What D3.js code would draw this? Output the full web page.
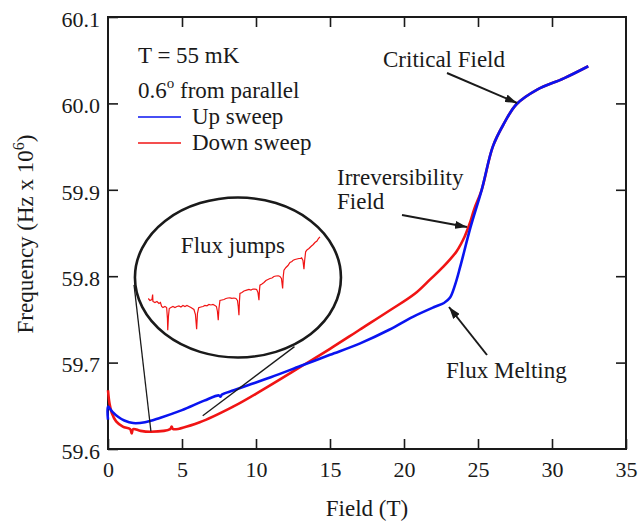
<!DOCTYPE html>
<html><head><meta charset="utf-8">
<script src="https://cdn.jsdelivr.net/npm/d3@7"></script>
<style>
html,body{margin:0;padding:0;background:#fff;}
svg text{font-family:"Liberation Serif","Times New Roman",Times,"DejaVu Serif",serif !important;}
</style></head>
<body>
<svg id="chart" width="639" height="525"></svg>
<script>
// ---- data ----
const xTicks = [0, 5, 10, 15, 20, 25, 30, 35];
const yTicks = [59.6, 59.7, 59.8, 59.9, 60.0, 60.1];
const seriesNames = ["Up sweep", "Down sweep"];
const seriesColors = ["#0a14f0", "#f01414"];

// Up sweep: [field (T), frequency (MHz)]
const upField = [0, 0, 0.3, 0.7, 1.1, 1.7, 2.5, 3.5, 5, 6.5, 7.5, 7.6, 7.7, 8.5, 9.5, 11, 13, 15, 17, 19, 20.6, 22, 22.7, 23.1, 23.45, 23.8, 24.5, 25.25, 26.0, 26.7, 27.6, 29.0, 30.8, 32.45];
const upFreq  = [59.634, 59.649, 59.643, 59.637, 59.633, 59.630, 59.631, 59.636, 59.645, 59.656, 59.662, 59.6605, 59.663, 59.668, 59.674, 59.683, 59.696, 59.709, 59.722, 59.738, 59.753, 59.764, 59.769, 59.775, 59.790, 59.811, 59.857, 59.900, 59.950, 59.975, 59.999, 60.016, 60.029, 60.043];

// Down sweep
const downField = [0, 0.1, 0.25, 0.55, 1.0, 1.5, 1.6, 1.7, 2.2, 2.9, 4.2, 4.3, 4.4, 6.2, 8.45, 10.3, 13, 15, 17, 19, 20.75, 21.75, 22.66, 23.56, 24.1, 24.46, 24.75, 25.25, 26.0, 26.7, 27.6, 29.0, 30.8, 32.45];
const downFreq  = [59.668, 59.653, 59.642, 59.632, 59.626, 59.623, 59.618, 59.623, 59.621, 59.620, 59.623, 59.626, 59.623, 59.631, 59.649, 59.667, 59.695, 59.716, 59.738, 59.760, 59.780, 59.796, 59.811, 59.829, 59.846, 59.862, 59.878, 59.900, 59.950, 59.975, 59.999, 60.016, 60.029, 60.043];

// Inset (flux jumps), arbitrary units
const insetX = [0.3,2,4,4.7,5,7,9,11,12.5,13.7,15,17,18.7,19.5,19.8,20.5,21.3,23,25,27,29,31,33,35,37,39,41,43,44.5,46,47.5,48.7,49.5,50.7,53,55,57,59,61,63,65,67,68.5,69.5,70.3,71,72,74,76,78,80,82,84,86,88,89.5,90.3,91,91.5,92,94,96,98.7,101,103,105,107,108.7,110,111,111.5,112,114,116,118,120,122,124,126,128,130.3,132,133.5,134.7,135.3,136,138,140,142,144,145.3,147,149,151,152.5,153.7,155,156,156.7,157.7,159,161,163,165.3,167,169,170.5,172];
const insetY = [10,8,9,14,7,6,7,5,6,2,1,2,1,-10,-21.7,-8,0,1,2,1,2,2.5,1.5,3,2,3,2,1,0,-1,-6,-20.7,-5,0.7,1.5,2,3,2.7,4,3.5,4,3,2,-3,-11.7,0,8,8.5,9,10,10.5,10.7,10.2,10.5,10,8,2,-6.7,7,15,16,17.5,18.3,19,18.5,19.5,19.3,19,16,8.3,18,23.3,24.5,26,28,29,30,30.5,32,32.5,32.7,32,30,20,32,38.3,41,43,46,47,48.3,49,49.5,50,50,50.7,48,39.3,48,56.7,58.5,60,62,64,66,67.5,70,71.7];

// ---- layout ----
const FONT = "'Liberation Serif','Times New Roman',Times,serif";
const svg = d3.select("#chart").attr("font-family", FONT);
const M = {left: 108, right: 626, top: 17, bottom: 449};
const x = d3.scaleLinear().domain([0, 35]).range([M.left, M.right]);
const y = d3.scaleLinear().domain([59.6, 60.1]).range([M.bottom, M.top]);
const FS = 22;
const ink = "#1a1a1a";

// axes
function styleAxis(g) {
  g.attr("font-family", FONT);
  g.select(".domain").remove();
  g.selectAll(".tick line").attr("stroke", ink).attr("stroke-width", 1.6);
  g.selectAll(".tick text").attr("font-size", FS).attr("fill", ink).attr("font-family", FONT);
}
svg.append("g").attr("transform", `translate(0,${M.bottom})`)
  .call(d3.axisBottom(x).tickValues(xTicks).tickSize(-10).tickPadding(12).tickFormat(d3.format("d")))
  .call(styleAxis);
svg.append("g").attr("transform", `translate(0,${M.top})`)
  .call(d3.axisTop(x).tickValues(xTicks.slice(1, -1)).tickSize(-10).tickFormat(""))
  .call(styleAxis);
const gl = svg.append("g").attr("transform", `translate(${M.left},0)`)
  .call(d3.axisLeft(y).tickValues(yTicks).tickSize(-10).tickPadding(8).tickFormat(d3.format(".1f")))
  .call(styleAxis);
gl.selectAll(".tick text").attr("dy", "0.42em");
svg.append("g").attr("transform", `translate(${M.right},0)`)
  .call(d3.axisRight(y).tickValues(yTicks.slice(1, -1)).tickSize(-10).tickFormat(""))
  .call(styleAxis);

svg.append("rect").attr("x", M.left).attr("y", M.top)
  .attr("width", M.right - M.left).attr("height", M.bottom - M.top)
  .attr("fill", "none").attr("stroke", ink).attr("stroke-width", 2);

// axis titles
svg.append("text").attr("x", (M.left + M.right) / 2).attr("y", 516)
  .attr("text-anchor", "middle").attr("font-size", 23).attr("fill", ink).text("Field (T)");
const yt = svg.append("text").attr("transform", `translate(33,${(M.top + M.bottom) / 2 + 1}) rotate(-90)`)
  .attr("text-anchor", "middle").attr("font-size", 23).attr("fill", ink);
yt.append("tspan").text("Frequency (Hz x 10");
yt.append("tspan").attr("font-size", 16).attr("dy", -9).text("6");
yt.append("tspan").attr("dy", 9).text(")");

// ---- curves ----
const line = d3.line().x(d => x(d[0])).y(d => y(d[1])).curve(d3.curveCatmullRom.alpha(0.5));
const downData = downField.map((f, i) => [f, downFreq[i]]);
const upData = upField.map((f, i) => [f, upFreq[i]]);
svg.append("path").attr("d", line(downData)).attr("fill", "none")
  .attr("stroke", seriesColors[1]).attr("stroke-width", 2.6).attr("stroke-linejoin", "round");
svg.append("path").attr("d", line(upData)).attr("fill", "none")
  .attr("stroke", seriesColors[0]).attr("stroke-width", 2.6).attr("stroke-linejoin", "round");

// ---- legend ----
const lg = svg.append("g").attr("fill", ink).attr("font-size", 23);
lg.append("text").attr("x", 138).attr("y", 63).text("T = 55 mK");
const t2 = lg.append("text").attr("x", 138).attr("y", 98);
t2.append("tspan").text("0.6");
t2.append("tspan").attr("font-size", 15).attr("dy", -10).text("o");
t2.append("tspan").attr("dy", 10).text(" from parallel");
seriesNames.forEach((n, i) => {
  const yy = 117 + i * 26;
  lg.append("line").attr("x1", 138).attr("x2", 181).attr("y1", yy).attr("y2", yy)
    .attr("stroke", seriesColors[i]).attr("stroke-width", 1.6);
  lg.append("text").attr("x", 192).attr("y", yy + 7).text(n);
});

// ---- annotations ----
const defs = svg.append("defs");
defs.append("marker").attr("id", "ah").attr("viewBox", "0 0 12 8")
  .attr("refX", 12).attr("refY", 4).attr("markerWidth", 12).attr("markerHeight", 8)
  .attr("markerUnits", "userSpaceOnUse").attr("orient", "auto")
  .append("path").attr("d", "M0,0 L12,4 L0,8 Z").attr("fill", ink);

function arrow(x1, y1, x2, y2) {
  svg.append("line").attr("x1", x1).attr("y1", y1).attr("x2", x2).attr("y2", y2)
    .attr("stroke", ink).attr("stroke-width", 2).attr("marker-end", "url(#ah)");
}
const ann = svg.append("g").attr("fill", ink).attr("font-size", 23);
ann.append("text").attr("x", 383).attr("y", 67).text("Critical Field");
arrow(447, 73, 517, 103);
ann.append("text").attr("x", 337).attr("y", 185).text("Irreversibility");
ann.append("text").attr("x", 337).attr("y", 209).text("Field");
arrow(402, 215, 467, 227);
ann.append("text").attr("x", 446).attr("y", 378).text("Flux Melting");
arrow(487, 355, 449, 307);

// ---- inset ellipse ----
const cx = x(8.78), cy = y(59.7985);
const rx = 103, ry = 80;
svg.append("line").attr("x1", x(1.76)).attr("y1", y(59.79)).attr("x2", x(2.9)).attr("y2", y(59.6205))
  .attr("stroke", ink).attr("stroke-width", 1.3);
svg.append("line").attr("x1", x(12.6)).attr("y1", y(59.7185)).attr("x2", x(6.4)).attr("y2", y(59.6385))
  .attr("stroke", ink).attr("stroke-width", 1.3);
svg.append("ellipse").attr("cx", cx).attr("cy", cy).attr("rx", rx).attr("ry", ry)
  .attr("fill", "none").attr("stroke", ink).attr("stroke-width", 2.6);
svg.append("text").attr("x", cx - 5).attr("y", 253).attr("text-anchor", "middle")
  .attr("font-size", 23).attr("fill", ink).text("Flux jumps");
const ix = d3.scaleLinear().domain([0, 172]).range([cx - 90, cx + 82]);
const iy = d3.scaleLinear().domain([0, 100]).range([cy + 31, cy - 69]);
svg.append("path")
  .attr("d", d3.line().x(d => ix(d[0])).y(d => iy(d[1]))(insetX.map((v, i) => [v, insetY[i]])))
  .attr("fill", "none").attr("stroke", seriesColors[1]).attr("stroke-width", 1.2);
</script>
</body></html>
